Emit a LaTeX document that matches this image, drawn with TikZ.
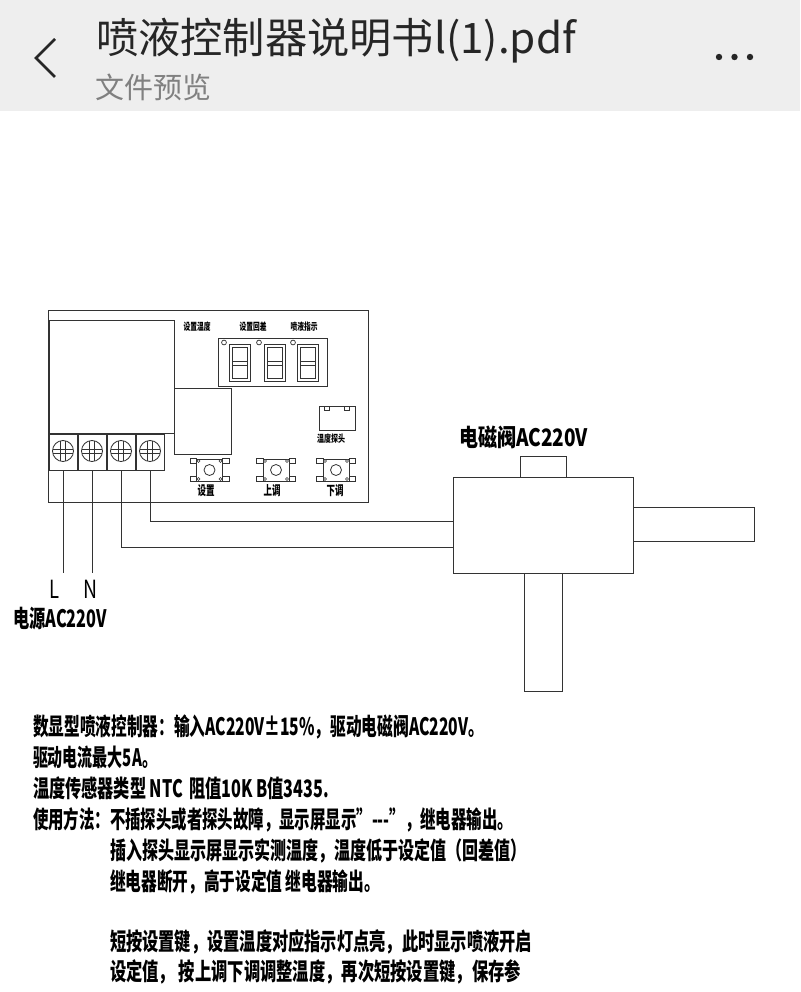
\documentclass[tikz,border=0pt]{standalone}
\usepackage{graphicx}
\usepackage{fontspec}
\setmainfont{Noto Sans CJK SC}
\newfontfamily\cjk{Noto Sans CJK SC}
\newcommand{\fitw}[2]{\resizebox{#1pt}{\height}{#2}}
\definecolor{ink}{HTML}{333333}
\definecolor{headbg}{HTML}{EEEEEE}
\tikzset{
  ln/.style={draw=ink,line width=1pt},
  thin ln/.style={draw=ink,line width=.8pt},
  box/.style={ln,fill=white,inner sep=0pt,outer sep=0pt},
  txt/.style={inner sep=0pt,outer sep=0pt,anchor=west,text=black},
  body/.style={txt,font=\fontsize{24}{24}\selectfont\bfseries},
  tiny lab/.style={inner sep=0pt,outer sep=0pt,text=black,font=\fontsize{10}{10}\selectfont\bfseries},
  mid lab/.style={inner sep=0pt,outer sep=0pt,text=black,font=\fontsize{13}{13}\selectfont\bfseries},
  lab/.style={inner sep=0pt,outer sep=0pt,text=black,font=\fontsize{24}{24}\selectfont\bfseries},
  plain lab/.style={inner sep=0pt,outer sep=0pt,text=black,font=\fontsize{25}{25}\selectfont},
  term/.style={box,minimum width=28pt,minimum height=36pt},
  screw/.style={thin ln,circle,minimum size=21pt,inner sep=0pt,outer sep=0pt,fill=white},
}
% digit: center x
\newcommand{\digit}[1]{%
  \draw[thin ln] (#1-10.5,344) rectangle (#1+10.5,381);
  \draw[thin ln] (#1-7.5,347.5) rectangle (#1+7.5,378);
  \draw[thin ln] (#1-7.5,361) -- (#1+7.5,361);
  \draw[thin ln] (#1-7.5,365) -- (#1+7.5,365);
}
% button: center x, name
\newcommand{\pushbtn}[2]{%
  \foreach \sx/\sy in {-1/-1,1/-1,-1/1,1/1}{
    \draw[line width=.7pt,draw=ink] (#1+\sx*13,470+\sy*6.8) rectangle (#1+\sx*19.5,470+\sy*11.2);
  }
  \node[box,line width=.8pt,minimum width=26pt,minimum height=22pt] (#2) at (#1,470) {};
  \draw[thin ln] (#1,470) circle (5.5);
  \foreach \sx/\sy in {-1/-1,1/-1,-1/1,1/1}{
    \draw[line width=.6pt,draw=ink,fill=white] (#1+\sx*11,470+\sy*9) circle (1.5);
  }
}
% screw cross
\newcommand{\screwat}[2]{%
  \node[screw] (#2) at (#1,451) {};
  \draw[line width=.7pt,draw=ink] (#1-2.8,441) -- (#1-2.8,461) (#1+2.8,441) -- (#1+2.8,461)
     (#1-10,449) -- (#1+10,449) (#1-10,453) -- (#1+10,453);
}
\begin{document}
\begin{tikzpicture}[x=1pt,y=-1pt]
\useasboundingbox (0,0) rectangle (800,992);
\fill[white] (0,0) rectangle (800,992);
% header
\fill[headbg] (0,0) rectangle (800,111);
\node[txt,text=black!85,font=\fontsize{42}{42}\selectfont] (title) at (96,41) {\fitw{480}{喷液控制器说明书l(1).pdf}};
\node[txt,text=black!50,font=\fontsize{29}{29}\selectfont] (sub) at (95,87) {\fitw{116}{文件预览}};
\coordinate (chevTop) at (55,39);
\coordinate (chevMid) at (36,58);
\coordinate (chevBot) at (55,77);
\draw[draw=black!85,line width=2.6pt] (chevTop) -- (chevMid) -- (chevBot);
\fill[black!85] (719,57) circle (3.2) (734.5,57) circle (3.2) (750,57) circle (3.2);
% board
\node[box,minimum width=319.5pt,minimum height=192pt] (board) at (208.5,406) {};
\node[box,minimum width=125pt,minimum height=113pt] (relay) at (111.5,376.5) {};
\node[box,minimum width=57pt,minimum height=66pt] (square) at (202.5,421) {};
\node[box,minimum width=109pt,minimum height=48pt] (panel) at (272.5,362) {};
\digit{239.5}
\digit{274.5}
\digit{307.5}
\foreach \x in {224,259,293}{ \draw[line width=.7pt,draw=ink] (\x,342.5) circle (2.4); }
\node[tiny lab] (l1) at (197,327) {\fitw{27}{设置温度}};
\node[tiny lab] (l2) at (253,327) {\fitw{27}{设置回差}};
\node[tiny lab] (l3) at (304,327) {\fitw{27}{喷液指示}};
% probe
\node[box,line width=.8pt,minimum width=36pt,minimum height=24pt] (probe) at (337,418) {};
\draw[line width=.6pt,draw=ink] (324.5,406) rectangle (329.5,410.5) (344,406) rectangle (349,410.5);
\node[tiny lab] (l4) at (331,439) {\fitw{28}{温度探头}};
% terminals
\node[term] (t1) at (63,452) {};
\node[term] (t2) at (92.5,452) {};
\node[term] (t3) at (121.5,452) {};
\node[term] (t4) at (150.5,452) {};
\draw[draw=ink,line width=2pt] (77.7,434) -- (77.7,470) (107,434) -- (107,470) (136,434) -- (136,470);
\screwat{63}{s1}
\screwat{92}{s2}
\screwat{121}{s3}
\screwat{150}{s4}
% buttons
\pushbtn{209.5}{b1}
\pushbtn{276}{b2}
\pushbtn{336}{b3}
\node[mid lab] (l5) at (206,491) {\fitw{17}{设置}};
\node[mid lab] (l6) at (272,491) {\fitw{17}{上调}};
\node[mid lab] (l7) at (335,491) {\fitw{17}{下调}};
% valve
\node[box,minimum width=46pt,minimum height=21pt] (vtop) at (543,466.5) {};
\node[box,minimum width=121pt,minimum height=34pt] (vright) at (693.5,524) {};
\node[box,minimum width=38pt,minimum height=118pt] (vbot) at (543,632) {};
\node[box,minimum width=180pt,minimum height=96pt] (valve) at (543,525) {};
\node[lab,anchor=west] (vlab) at (459,437) {\fitw{129}{电磁阀AC220V}};
% wires
\coordinate (w1) at (63,573);
\coordinate (w2) at (92,573);
\draw[ln] (t1.south) -- (w1);
\draw[ln] (t2.south) ++(-.5,0) -- (w2);
\coordinate (w3) at (valve.west |- 0,547);
\coordinate (w4) at (valve.west |- 0,521);
\draw[ln] (t3.south) ++(-.5,0) |- (w3);
\draw[ln] (t4.south) ++(-.5,0) |- (w4);
% power labels
\node[plain lab] (L) at (54,589) {\fitw{10}{L}};
\node[plain lab] (N) at (90,589) {\fitw{14}{N}};
\node[lab,anchor=west] (plab) at (13,618) {\fitw{94}{电源AC220V}};
% body text
\node[body] (p1) at (33,727) {\fitw{451}{数显型喷液控制器：输入AC220V±15\%，驱动电磁阀AC220V。}};
\node[body] (p2) at (33,757) {\fitw{124}{驱动电流最大5A。}};
\node[body] (p3) at (33,788) {\fitw{296}{温度传感器类型 NTC\, 阻值10K B值3435.}};
\node[body] (p4) at (33,820) {\fitw{480}{使用方法：不插探头或者探头故障，显示屏显示"-{}-{}-"，继电器输出。}};
\node[body] (p5) at (110,851) {\fitw{417}{插入探头显示屏显示实测温度，温度低于设定值（回差值）}};
\node[body] (p6) at (110,882) {\fitw{270}{继电器断开，高于设定值 继电器输出。}};
\node[body] (p7) at (110,942) {\fitw{422}{短按设置键，设置温度对应指示灯点亮，此时显示喷液开启}};
\node[body] (p8) at (110,972) {\fitw{411}{设定值， 按上调下调调整温度，再次短按设置键，保存参}};
\end{tikzpicture}
\end{document}
